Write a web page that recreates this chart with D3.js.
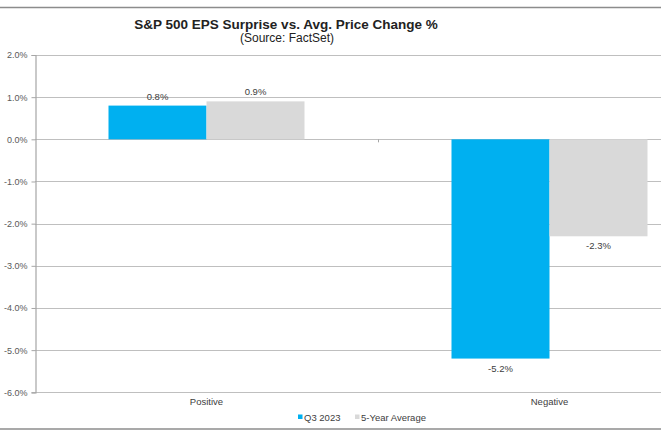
<!DOCTYPE html>
<html>
<head>
<meta charset="utf-8">
<script src="https://cdn.jsdelivr.net/npm/d3@7"></script>
<style>
  body { margin: 0; background: #fff; }
  svg text { font-family: "Liberation Sans", Arial, sans-serif; }
</style>
</head>
<body>
<svg id="chart"></svg>
<script>
const width = 661;
const height = 440;

// data
const categories = ['Positive', 'Negative'];
const seriesNames = ['Q3 2023', '5-Year Average'];
const q3Values = [0.8, -5.2];
const avgValues = [0.9, -2.3];
const yTicks = [2, 1, 0, -1, -2, -3, -4, -5, -6];

const colors = { 'Q3 2023': '#00b0f0', '5-Year Average': '#d9d9d9' };

const svg = d3.select('#chart')
    .attr('width', width)
    .attr('height', height);

// frame lines top and bottom
svg.append('line').attr('x1', 0).attr('x2', width).attr('y1', 7.5).attr('y2', 7.5)
    .attr('stroke', '#8c8c8c').attr('stroke-width', 1.5);
svg.append('line').attr('x1', 0).attr('x2', width).attr('y1', 429).attr('y2', 429)
    .attr('stroke', '#8c8c8c').attr('stroke-width', 1.5);

// title
svg.append('text')
    .attr('x', 286).attr('y', 29)
    .attr('text-anchor', 'middle')
    .attr('font-size', 13.5).attr('font-weight', 'bold').attr('fill', '#222')
    .text('S&P 500 EPS Surprise vs. Avg. Price Change %');
svg.append('text')
    .attr('x', 287).attr('y', 42)
    .attr('text-anchor', 'middle')
    .attr('font-size', 12).attr('fill', '#222')
    .text('(Source: FactSet)');

// the plot runs past the right edge (picture is cropped)
const x = d3.scaleBand().domain(categories).range([35, 721]);
const xs = d3.scaleBand().domain(seriesNames).range([0, x.bandwidth()]).paddingOuter(0.75);
const y = d3.scaleLinear().domain([-6, 2]).range([392.3, 55]);

// gridlines
svg.append('g').selectAll('line')
  .data(yTicks)
  .enter().append('line')
    .attr('x1', 35).attr('x2', width)
    .attr('y1', d => Math.round(y(d)) + 0.5).attr('y2', d => Math.round(y(d)) + 0.5)
    .attr('stroke', '#bfbfbf').attr('stroke-width', 1.2);

// y axis
const yAxis = svg.append('g')
    .attr('transform', 'translate(35.5,0)')
    .call(d3.axisLeft(y).tickValues(yTicks).tickSize(4).tickFormat(d => d.toFixed(1) + '%'));
yAxis.select('.domain').attr('stroke', '#a6a6a6').attr('stroke-width', 1.2);
yAxis.selectAll('.tick line').attr('stroke', '#a6a6a6');
yAxis.selectAll('.tick text')
    .attr('font-size', 9).attr('fill', '#595959').attr('x', -8)
    .style('font-family', '"Liberation Sans", Arial, sans-serif');

// category divider tick on the zero line
svg.append('line')
    .attr('x1', x('Negative') + 0.5).attr('x2', x('Negative') + 0.5)
    .attr('y1', y(0)).attr('y2', y(0) + 3)
    .attr('stroke', '#a6a6a6');

const rows = categories.map((c, i) => ({
  cat: c,
  vals: [{ s: 'Q3 2023', v: q3Values[i] }, { s: '5-Year Average', v: avgValues[i] }]
}));

const group = svg.selectAll('.cat')
  .data(rows)
  .enter().append('g')
    .attr('class', 'cat')
    .attr('transform', d => `translate(${x(d.cat)},0)`);

group.selectAll('rect')
  .data(d => d.vals)
  .enter().append('rect')
    .attr('x', d => xs(d.s))
    .attr('width', xs.bandwidth())
    .attr('y', d => y(Math.max(0, d.v)))
    .attr('height', d => Math.abs(y(d.v) - y(0)))
    .attr('fill', d => colors[d.s]);

group.selectAll('.lbl')
  .data(d => d.vals)
  .enter().append('text')
    .attr('class', 'lbl')
    .attr('x', d => xs(d.s) + xs.bandwidth() / 2)
    .attr('y', d => d.v >= 0 ? y(d.v) - 6 : y(d.v) + 13)
    .attr('text-anchor', 'middle')
    .attr('font-size', 9.5).attr('fill', '#404040')
    .text(d => d.v.toFixed(1) + '%');

// category labels
svg.selectAll('.catlbl')
  .data(categories)
  .enter().append('text')
    .attr('class', 'catlbl')
    .attr('x', d => x(d) + x.bandwidth() / 2)
    .attr('y', 404.5)
    .attr('text-anchor', 'middle')
    .attr('font-size', 9.5).attr('fill', '#404040')
    .text(d => d);

// legend
const legendX = [298, 355];
const legend = svg.selectAll('.leg')
  .data(seriesNames)
  .enter().append('g')
    .attr('class', 'leg')
    .attr('transform', (d, i) => `translate(${legendX[i]},417)`);
legend.append('rect')
    .attr('x', 0).attr('y', -2.5).attr('width', 4.5).attr('height', 4.5)
    .attr('fill', d => colors[d]);
legend.append('text')
    .attr('x', 6).attr('y', 3.5)
    .attr('font-size', 9.5).attr('fill', '#404040')
    .text(d => d);
</script>
</body>
</html>
